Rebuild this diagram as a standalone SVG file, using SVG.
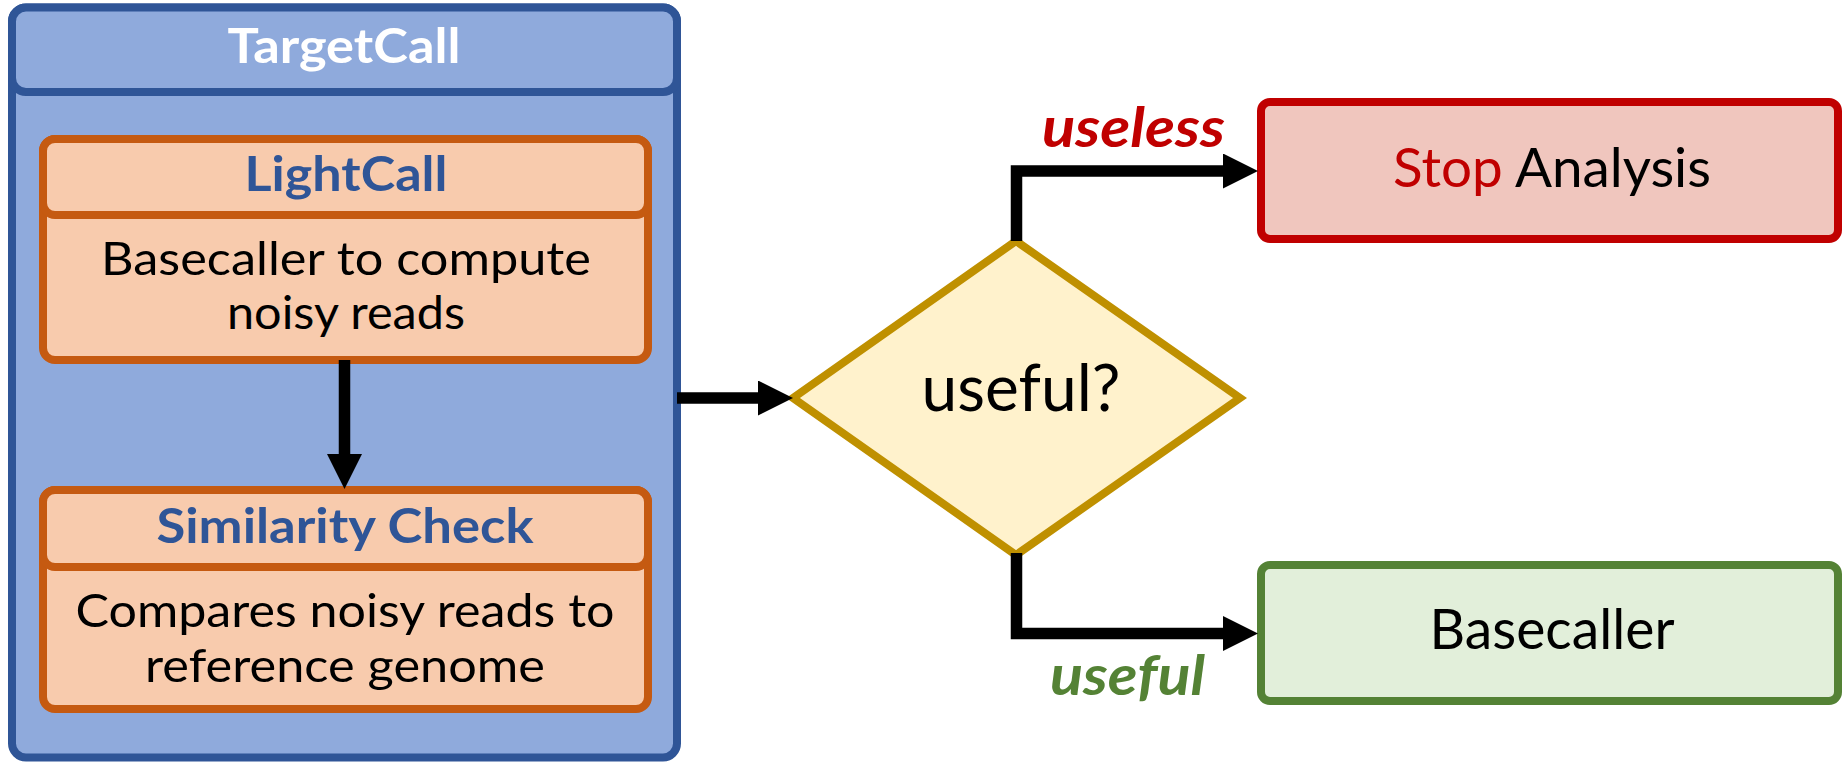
<svg xmlns="http://www.w3.org/2000/svg" width="1843" height="762" viewBox="0 0 1843 762">
  <style>
    .txt { font-family: "Lato", "Liberation Sans", sans-serif; text-anchor: middle; }
    .body { font-size: 46px; fill: #000000; }
    .title { font-size: 48px; font-weight: bold; fill: #2F5597; }
    .blueBox { fill: #8FAADC; stroke: #2F5597; stroke-width: 8; }
    .orangeBox { fill: #F8CBAD; stroke: #C55A11; stroke-width: 8; }
    .wire { fill: none; stroke: #000000; stroke-width: 11.5; stroke-linejoin: miter; }
    .label { font-size: 56px; font-weight: bold; font-style: italic; }
  </style>
  <defs>
    <marker id="arrow" viewBox="0 0 35 35" refX="1" refY="17.5" markerWidth="35" markerHeight="35" markerUnits="userSpaceOnUse" orient="auto">
      <polygon points="0,0 35,17.5 0,35" fill="#000000"/>
    </marker>
  </defs>

  <!-- TargetCall container -->
  <g id="targetcall">
    <rect class="blueBox" x="12" y="7.5" width="665" height="750" rx="14"/>
    <rect class="blueBox" x="12" y="7.5" width="665" height="84.5" rx="14"/>
    <text class="txt" x="344" y="63" font-size="48" font-weight="bold" fill="#FFFFFF" textLength="233" lengthAdjust="spacingAndGlyphs">TargetCall</text>
  </g>

  <!-- LightCall block -->
  <g id="lightcall">
    <rect class="orangeBox" x="43" y="139" width="605" height="221" rx="12"/>
    <rect class="orangeBox" x="43" y="139" width="605" height="76" rx="12"/>
    <text class="txt title" x="346" y="191" textLength="203" lengthAdjust="spacingAndGlyphs">LightCall</text>
    <text class="txt body" x="346" y="275" textLength="490" lengthAdjust="spacingAndGlyphs">Basecaller to compute</text>
    <text class="txt body" x="346" y="329" textLength="238" lengthAdjust="spacingAndGlyphs">noisy reads</text>
  </g>

  <!-- Similarity Check block -->
  <g id="similarity">
    <rect class="orangeBox" x="43" y="490" width="605" height="219" rx="12"/>
    <rect class="orangeBox" x="43" y="490" width="605" height="77" rx="12"/>
    <text class="txt title" x="345" y="543" textLength="377" lengthAdjust="spacingAndGlyphs">Similarity Check</text>
    <text class="txt body" x="345" y="627" textLength="539" lengthAdjust="spacingAndGlyphs">Compares noisy reads to</text>
    <text class="txt body" x="345" y="682" textLength="400" lengthAdjust="spacingAndGlyphs">reference genome</text>
  </g>

  <!-- Decision -->
  <g id="decision">
    <polygon points="793,398 1016,241 1240,398 1016,555" fill="#FFF2CC" stroke="#BF9000" stroke-width="8"/>
    <text class="txt" x="1021" y="411" font-size="66" fill="#000000" textLength="199" lengthAdjust="spacingAndGlyphs">useful?</text>
  </g>

  <!-- Stop Analysis -->
  <g id="stop">
    <rect x="1261" y="102" width="577" height="137" rx="9" fill="#F0C6BE" stroke="#C00000" stroke-width="8"/>
    <text class="txt" x="1552" y="187" font-size="55" textLength="318" lengthAdjust="spacingAndGlyphs"><tspan fill="#C00000">Stop</tspan><tspan fill="#000000"> Analysis</tspan></text>
  </g>

  <!-- Basecaller -->
  <g id="basecaller">
    <rect x="1261" y="565" width="577" height="136" rx="9" fill="#E2EFDA" stroke="#548235" stroke-width="8"/>
    <text class="txt" x="1552" y="649" font-size="56" fill="#000000" textLength="245" lengthAdjust="spacingAndGlyphs">Basecaller</text>
  </g>

  <!-- Connectors -->
  <g id="connectors">
    <path class="wire" d="M344.5,360 V455" marker-end="url(#arrow)"/>
    <path class="wire" d="M677,398 H759" marker-end="url(#arrow)"/>
    <path class="wire" d="M1016.5,241 V171 H1224" marker-end="url(#arrow)"/>
    <path class="wire" d="M1016.5,553 V633.5 H1224" marker-end="url(#arrow)"/>
    <text class="txt label" x="1133.5" y="147" fill="#C00000" textLength="183" lengthAdjust="spacingAndGlyphs">useless</text>
    <text class="txt label" x="1127.5" y="695" fill="#548235" textLength="155" lengthAdjust="spacingAndGlyphs">useful</text>
  </g>
</svg>
